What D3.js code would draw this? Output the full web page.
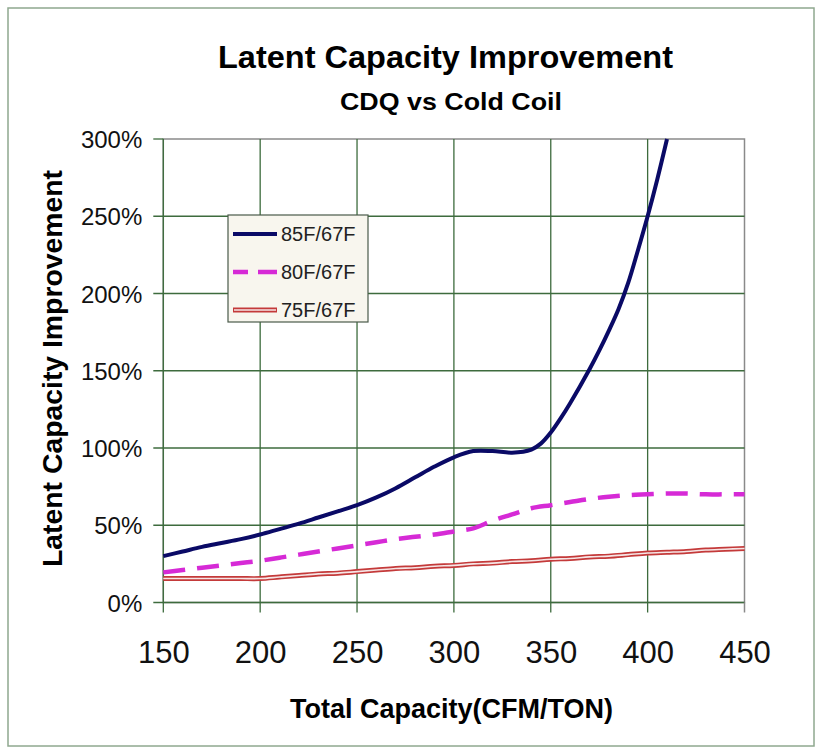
<!DOCTYPE html>
<html><head><meta charset="utf-8">
<script src="https://cdn.jsdelivr.net/npm/d3@7"></script>
<style>body{margin:0;background:#fff}svg{display:block}text{font-family:"Liberation Sans",Arial,sans-serif}</style>
</head><body><svg id="c" width="818" height="751"></svg>
<script>
const xTicks = [150,200,250,300,350,400,450];
const yTicks = [0,0.5,1,1.5,2,2.5,3];
const xs85 = [150,160,170,180,190,200,210,220,230,240,250,260,270,280,290,300,310,320,330,340,345,350,355,360,370,375,380,385,390,395,400,405,410];
const v85 = [30,33,36,38.5,41,44,47.5,51,55,59,63,68,74,81,88,94,98,98,97,99,103,110,119,129,151,163,176,190,207,228,250,274,300];
const xs80 = [150,160,170,180,190,200,210,220,230,240,250,260,270,280,290,300,310,320,330,340,350,360,370,380,390,400,410,420,430,440,450];
const v80 = [19.5,21,22.5,24,25.5,27,29,31,33,35,37,39,41,42.5,44,46,48,53,57,61,63,65,67,68.5,69.5,70,70.5,70.5,70,70,70];
const xs75 = xs80;
const v75 = [15.5,15.5,15.5,15.5,15.5,15.5,16.5,17.5,18.5,19,20,21,22,22.5,23.5,24,25,25.5,26.5,27,28,28.5,29.5,30,31,32,32.5,33,34,34.5,35];
const seriesNames = ["85F/67F","80F/67F","75F/67F"];

const svg = d3.select("#c");
const x = d3.scaleLinear().domain([150,450]).range([163.3,744.5]);
const y = d3.scaleLinear().domain([0,3]).range([602.5,139]);
const grid = "#3d6b3d";

// outer frame
svg.append("rect").attr("x",8).attr("y",8).attr("width",806).attr("height",738)
  .attr("fill","#fff").attr("stroke","#8fa88f").attr("stroke-width",1.5);

// titles
svg.append("text").attr("x",445.5).attr("y",68).attr("text-anchor","middle")
  .attr("font-size",31).attr("font-weight","bold").attr("textLength",455).attr("lengthAdjust","spacingAndGlyphs")
  .text("Latent Capacity Improvement");
svg.append("text").attr("x",451).attr("y",110).attr("text-anchor","middle")
  .attr("font-size",24).attr("font-weight","bold").attr("textLength",222).attr("lengthAdjust","spacingAndGlyphs")
  .text("CDQ vs Cold Coil");

// plot border (top/right gray)
svg.append("rect").attr("x",x(150)).attr("y",y(3)).attr("width",x(450)-x(150)).attr("height",y(0)-y(3))
  .attr("fill","#fff").attr("stroke","#8a8a8a").attr("stroke-width",1.5);

// gridlines
const g = svg.append("g");
g.selectAll(".vg").data(xTicks.slice(0,-1)).join("line")
  .attr("x1",d=>x(d)).attr("x2",d=>x(d)).attr("y1",y(3)).attr("y2",y(0)+10)
  .attr("stroke",grid).attr("stroke-width",1.3);
g.selectAll(".hg").data(yTicks.slice(0,-1)).join("line")
  .attr("x1",x(150)-10).attr("x2",x(450)).attr("y1",d=>y(d)).attr("y2",d=>y(d))
  .attr("stroke",grid).attr("stroke-width",1.3);
g.append("line").attr("x1",x(450)).attr("x2",x(450)).attr("y1",y(0)).attr("y2",y(0)+10).attr("stroke","#8a8a8a").attr("stroke-width",1.5);
g.append("line").attr("x1",x(150)-10).attr("x2",x(150)).attr("y1",y(3)).attr("y2",y(3)).attr("stroke",grid).attr("stroke-width",1.3);

// axes via d3 (labels only)
const xAxis = d3.axisBottom(x).tickValues(xTicks).tickSize(0).tickPadding(0).tickFormat(d3.format("d"));
const xa = svg.append("g").attr("transform",`translate(0,${y(0)})`).call(xAxis);
xa.select(".domain").remove();
xa.selectAll("text").attr("font-size",31).attr("fill","#111").attr("font-family","Liberation Sans, Arial, sans-serif")
  .attr("dy",null).attr("y",60.5);
const yAxis = d3.axisLeft(y).tickValues(yTicks).tickSize(0).tickPadding(0).tickFormat(d3.format(".0%"));
const ya = svg.append("g").attr("transform",`translate(${x(150)},0)`).call(yAxis);
ya.select(".domain").remove();
ya.selectAll("text").attr("font-size",24).attr("fill","#111").attr("font-family","Liberation Sans, Arial, sans-serif")
  .attr("x",-21).attr("dy","0.36em");

// axis titles
svg.append("text").attr("x",451.5).attr("y",718).attr("text-anchor","middle")
  .attr("font-size",27).attr("font-weight","bold").attr("textLength",323).attr("lengthAdjust","spacingAndGlyphs")
  .text("Total Capacity(CFM/TON)");
svg.append("text").attr("transform","translate(61.5,368.5) rotate(-90)").attr("text-anchor","middle")
  .attr("font-size",27).attr("font-weight","bold").attr("textLength",397).attr("lengthAdjust","spacingAndGlyphs")
  .text("Latent Capacity Improvement");

// lines
const line = d3.line().x(d=>x(d[0])).y(d=>y(d[1]/100)).curve(d3.curveCatmullRom.alpha(0.5));
const d75 = xs75.map((v,i)=>[v,v75[i]]);
const d80 = xs80.map((v,i)=>[v,v80[i]]);
const d85 = xs85.map((v,i)=>[v,v85[i]]);
svg.append("path").attr("d",line(d75)).attr("fill","none").attr("stroke","#c43a3a").attr("stroke-width",5);
svg.append("path").attr("d",line(d75)).attr("fill","none").attr("stroke","#f6e6e6").attr("stroke-width",1.6);
svg.append("path").attr("d",line(d80)).attr("fill","none").attr("stroke","#d62ad6").attr("stroke-width",4.5).attr("stroke-dasharray","22 12");
svg.append("path").attr("d",line(d85)).attr("fill","none").attr("stroke","#0a0a66").attr("stroke-width",4);

// legend
const lg = svg.append("g");
lg.append("rect").attr("x",228).attr("y",215).attr("width",140).attr("height",107)
  .attr("fill","#f8f6ee").attr("stroke","#4a5a4a").attr("stroke-width",1.2);
const rows = [234,272,310];
seriesNames.forEach((n,i)=>{
  const yy = rows[i];
  if(i===0){
    lg.append("line").attr("x1",233).attr("x2",277).attr("y1",yy).attr("y2",yy).attr("stroke","#0a0a66").attr("stroke-width",4);
  } else if(i===1){
    lg.append("line").attr("x1",233).attr("x2",277).attr("y1",yy).attr("y2",yy).attr("stroke","#d62ad6").attr("stroke-width",4.5).attr("stroke-dasharray","22 10").attr("stroke-dashoffset",7);
  } else {
    lg.append("line").attr("x1",233).attr("x2",277).attr("y1",yy).attr("y2",yy).attr("stroke","#c43a3a").attr("stroke-width",5);
    lg.append("line").attr("x1",234).attr("x2",276).attr("y1",yy).attr("y2",yy).attr("stroke","#f6e6e6").attr("stroke-width",1.6);
  }
  lg.append("text").attr("x",281).attr("y",yy).attr("dy","0.36em").attr("font-size",20).attr("fill","#222").text(n);
});
</script></body></html>
